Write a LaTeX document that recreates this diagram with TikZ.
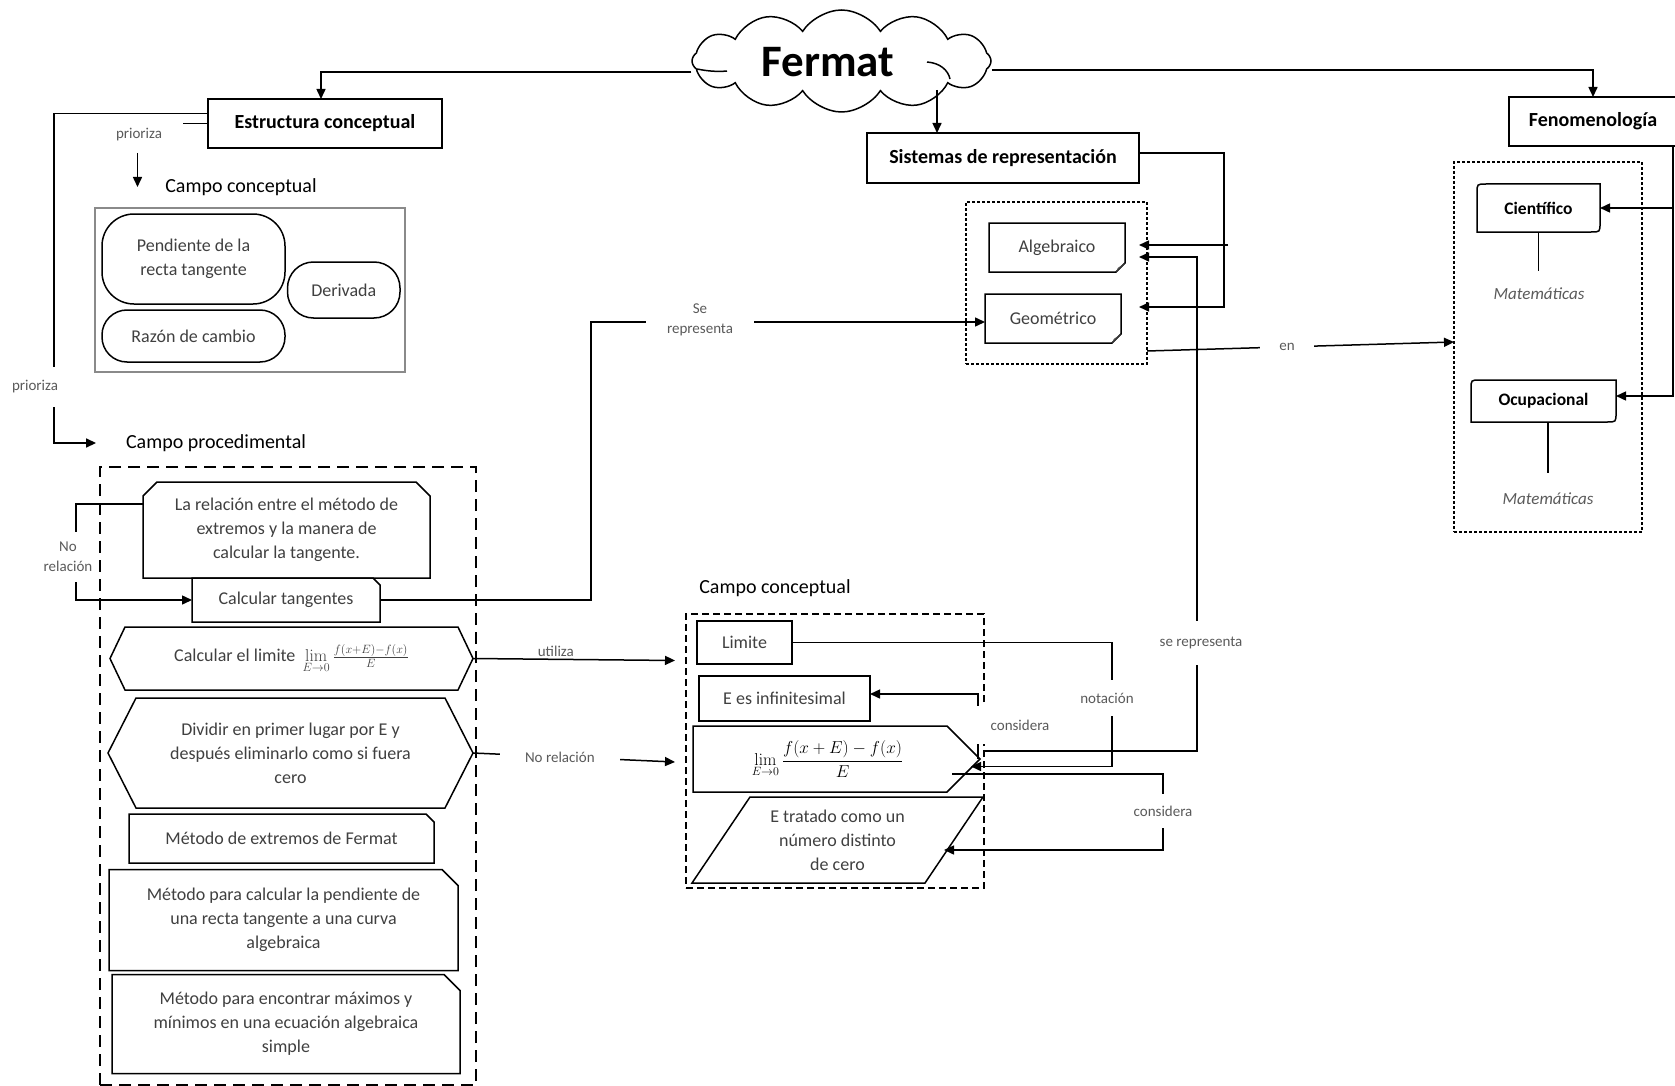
\documentclass[tikz,border=0pt]{standalone}
\usepackage[no-math]{fontspec}
\setmainfont{Carlito}
\usetikzlibrary{arrows.meta,calc,shapes.symbols}

\definecolor{boxtext}{HTML}{404040}
\definecolor{labtext}{HTML}{5A5A5A}
\definecolor{framegray}{HTML}{8A8A8A}

\tikzset{
  conn/.style={line width=1.5pt, draw=black},
  arr/.style={conn, -{Triangle[length=10pt,width=9pt]}},
  frame/.style={line width=1.5pt, draw=black},
  plain/.style={inner sep=0pt, outer sep=0pt, align=center},
  cbox/.style={plain, font=\fontsize{18}{24}\selectfont, text=boxtext},
  head/.style={plain, font=\fontsize{20}{24}\selectfont\bfseries, text=black},
  title/.style={plain, font=\fontsize{20}{24}\selectfont, text=black},
  lab/.style={inner sep=0pt, outer sep=0pt, align=center,
              font=\fontsize{15}{20}\selectfont, text=labtext},
  gaplab/.style={lab, fill=white},
  finedash/.style={line width=1.3pt, dash pattern=on 3pt off 2pt},
  middash/.style={line width=1.4pt, dash pattern=on 7pt off 4pt},
  longdash/.style={line width=1.4pt, dash pattern=on 12pt off 7pt},
}

% outlines drawn around plain nodes
\newcommand\shapeNE[2]{\draw[frame] (#1.north west) -- ($(#1.north east)+(-#2,0)$)
  -- ($(#1.north east)+(0,#2)$) -- (#1.south east) -- (#1.south west) -- cycle;}
\newcommand\shapeTop[2]{\draw[frame] (#1.south west) -- ($(#1.north west)+(0,#2)$)
  -- ($(#1.north west)+(#2,0)$) -- ($(#1.north east)+(-#2,0)$)
  -- ($(#1.north east)+(0,#2)$) -- (#1.south east) -- cycle;}
\newcommand\shapeHex[2]{\draw[frame] (#1.west) -- ($(#1.north west)+(#2,0)$)
  -- ($(#1.north east)+(-#2,0)$) -- (#1.east) -- ($(#1.south east)+(-#2,0)$)
  -- ($(#1.south west)+(#2,0)$) -- cycle;}
\newcommand\shapePent[2]{\draw[frame] (#1.north west) -- ($(#1.north east)+(-#2,0)$)
  -- (#1.east) -- ($(#1.south east)+(-#2,0)$) -- (#1.south west) -- cycle;}
\newcommand\shapePara[2]{\draw[frame] ($(#1.north west)+(#2,0)$) -- (#1.north east)
  -- ($(#1.south east)+(-#2,0)$) -- (#1.south west) -- cycle;}
\newcommand\shapeFold[2]{\draw[frame] (#1.north west) -- (#1.north east)
  -- ($(#1.south east)+(0,-#2)$) -- ($(#1.south east)+(-#2,0)$) -- (#1.south west) -- cycle;
  \fill[black!70] ($(#1.south east)+(0,-#2)$) -- ($(#1.south east)+(-#2,0)$)
  -- ($(#1.south east)+(-0.8*#2,-0.45*#2)$) -- cycle;}
\newcommand\shapeTLBR[2]{\draw[frame] ($(#1.north west)+(0,#2)$) .. controls (#1.north west) .. ($(#1.north west)+(#2,0)$)
  -- (#1.north east) -- ($(#1.south east)+(0,-#2)$) .. controls (#1.south east) .. ($(#1.south east)+(-#2,0)$)
  -- (#1.south west) -- cycle;}

\begin{document}
\begin{tikzpicture}[x=1pt,y=-1pt]
\fill[white] (0,0) rectangle (1675,1086);
\useasboundingbox (0,0) rectangle (1675,1086);

% ---------- Fermat ----------
\node[cloud, draw, line width=1.5pt, cloud puffs=12, cloud puff arc=115,
      cloud ignores aspect, minimum width=299pt, minimum height=102pt,
      inner sep=0pt] (fcloud) at (841.5,61) {};
\draw[conn] (927,62) .. controls (940,63) and (948,70) .. (950,79);
\draw[conn] (697,69) .. controls (707,71) and (717,72) .. (727,71);
\node[plain, font=\fontsize{45}{50}\selectfont\bfseries] (fermat) at (828,62) {Fermat};

% ---------- Estructura conceptual ----------
\node[head, frame, minimum width=234pt, minimum height=49pt] (estr) at (325,123.5) {Estructura conceptual};
\node[title] (cc1title) at (241,187) {Campo conceptual};
\node[plain, draw=framegray, line width=1.2pt, minimum width=310pt, minimum height=164pt] (cc1box) at (250,290) {};
\node[cbox, frame, rounded corners=32pt, minimum width=183pt, minimum height=90pt] (pend) at (193.5,259) {Pendiente de la\\recta tangente};
\node[cbox, frame, rounded corners=26pt, minimum width=112.5pt, minimum height=56pt] (deriv) at (343.75,290) {Derivada};
\node[cbox, frame, rounded corners=25pt, minimum width=183pt, minimum height=52pt] (razon) at (193.5,336) {Razón de cambio};

% ---------- Campo procedimental ----------
\node[title] (cproc) at (216,443) {Campo procedimental};
\node[plain, draw, longdash, minimum width=376pt, minimum height=618pt] (procbox) at (288,776) {};
\node[cbox, minimum width=287pt, minimum height=96pt] (rel) at (286.5,530) {La relación entre el método de\\extremos y la manera de\\calcular la tangente.};
\shapeTop{rel}{14}
\node[cbox, minimum width=188pt, minimum height=44pt] (ctan) at (286,600) {Calcular tangentes};
\shapeNE{ctan}{7}
\node[cbox, minimum width=363pt, minimum height=63pt] (clim) at (291.5,658.5) {Calcular el limite\, $\lim\limits_{E\to0}\frac{f(x+E)-f(x)}{E}$};
\shapeHex{clim}{15}
\node[cbox, minimum width=365pt, minimum height=110pt] (div) at (290.5,753) {Dividir en primer lugar por E y\\después eliminarlo como si fuera\\cero};
\shapeHex{div}{28}
\node[cbox, minimum width=305pt, minimum height=49pt] (mext) at (281.5,838.5) {Método de extremos de Fermat};
\shapeNE{mext}{8}
\node[cbox, minimum width=349pt, minimum height=101pt] (mcalc) at (283.5,920) {Método para calcular la pendiente de\\una recta tangente a una curva\\algebraica};
\shapeNE{mcalc}{16}
\node[cbox, minimum width=348pt, minimum height=99pt] (menc) at (286,1024) {Método para encontrar máximos y\\mínimos en una ecuación algebraica\\simple};
\shapeNE{menc}{16}

% ---------- Sistemas de representación ----------
\node[head, frame, minimum width=272pt, minimum height=50pt] (sist) at (1003,158) {Sistemas de representación};
\node[plain, draw, finedash, minimum width=181pt, minimum height=162pt] (repbox) at (1056.5,283) {};
\node[cbox, minimum width=136pt, minimum height=49pt] (alg) at (1057,247.5) {Algebraico};
\shapeFold{alg}{9}
\node[cbox, minimum width=136pt, minimum height=49pt] (geo) at (1053,318.5) {Geométrico};
\shapeFold{geo}{9}

% ---------- Campo conceptual (derecha) ----------
\node[title] (cc2title) at (775,588) {Campo conceptual};
\node[plain, draw, middash, minimum width=298pt, minimum height=274pt] (cc2box) at (835,751) {};
\node[cbox, frame, minimum width=95pt, minimum height=43pt] (limite) at (744.5,642.5) {Limite};
\node[cbox, frame, minimum width=171pt, minimum height=45pt] (einf) at (784.5,698.5) {E es infinitesimal};
\node[plain, text=black, font=\fontsize{18.5}{22}\selectfont, minimum width=287pt, minimum height=66pt] (limf) at (836.5,759)
  {$\displaystyle\lim_{E\to0}\frac{f(x+E)-f(x)}{E}$\hspace{18pt}};
\shapePent{limf}{33}
\node[cbox, minimum width=291pt, minimum height=86pt] (etr) at (837.5,840) {E tratado como un\\número distinto\\de cero};
\shapePara{etr}{58}

% ---------- Fenomenología ----------
\node[head, frame, minimum width=168pt, minimum height=49pt] (fen) at (1593,121.5) {Fenomenología};
\node[plain, draw, finedash, minimum width=188pt, minimum height=370pt] (fenbox) at (1548,347) {};
\node[plain, font=\fontsize{17.5}{20}\selectfont\bfseries, minimum width=123pt, minimum height=48pt] (cien) at (1538.5,208) {Científico};
\shapeTLBR{cien}{9}
\node[plain, font=\fontsize{17.5}{20}\selectfont\bfseries, minimum width=145pt, minimum height=42pt] (ocup) at (1543.5,401) {Ocupacional};
\shapeTLBR{ocup}{9}
\node[plain, font=\fontsize{17}{20}\selectfont\itshape, text=labtext] (mat1) at (1539,294) {Matemáticas};
\node[plain, font=\fontsize{17}{20}\selectfont\itshape, text=labtext] (mat2) at (1548,499) {Matemáticas};

% ---------- connectors ----------
\coordinate (fdrop) at (937,90);
\coordinate (prioA) at (137.5,153);
\coordinate (prioB) at (137.5,187);
\coordinate (sbranch) at (1228,245);

\draw[arr] ([yshift=-11pt]fcloud.west) -| ([xshift=-4pt]estr.north);
\draw[arr] (fdrop) -- (fdrop |- sist.north);
\draw[arr] ([yshift=-9pt]fcloud.east) -| (fen.north);

\draw[arr] ([yshift=10pt]estr.west) -- ++(-154,0) |- ([xshift=-30pt]cproc.west);
\draw[conn] (estr.west) -- ++(-25,0);
\draw[arr] (prioA) -- (prioB);

\draw[arr] (ctan.east) -- ++(211,0) |- ([yshift=-3.5pt]geo.west);
\draw[arr] ([yshift=26pt]rel.west) -- ++(-67,0) |- (ctan.west);
\draw[arr] (clim.east) -- ++(202,2) node[lab, pos=.41, above=3pt] (lutil) {utiliza};
\draw[arr] (div.east) -- ++(202,9) node[gaplab, pos=.43, inner xsep=25pt, inner ysep=5pt] (lnorel2) {No relación};

\draw[arr] (limite.east) -- ++(320,0) -- ++(0,124) -- ($(limf.east)+(-9,7.5)$);
\draw[arr] ([xshift=-2pt]limf.east) |- ([yshift=4.5pt]einf.east);
\draw[arr] ($(limf.east)+(-28,15)$) -- ++(211,0) -- ++(0,76) -- ([shift={(-39pt,-10pt)}]etr.east);
\draw[arr] ($(limf.east)+(3,-8)$) -- ++(214,0) |- ($(alg.east)+(14,9.5)$);

\draw[arr] ([yshift=5pt]sist.east) -- ++(85,0) |- ($(geo.east)+(18,-11.5)$);
\draw[arr] (sbranch) -- ($(alg.east)+(14,-2.5)$);
\draw[arr] ([yshift=13pt]repbox.south east) -- ([yshift=5pt]fenbox.west)
  node[gaplab, pos=.456, inner xsep=19pt, inner ysep=3pt] (len) {en};

\draw[arr] ([xshift=-4pt]fen.south east) |- (cien.east);
\draw[arr] ([xshift=-4pt]fen.south east) |- ([yshift=5pt]ocup.east);
\draw[conn] (cien.south) -- ++(0,39);
\draw[conn] ([xshift=4.5pt]ocup.south) -- ++(0,51);

% ---------- labels ----------
\node[lab] (lprio1) at (139,135) {prioriza};
\node[gaplab, inner xsep=2pt, inner ysep=14pt] (lprio2) at (35,387) {prioriza};
\node[gaplab, inner xsep=21pt, inner ysep=2pt] (lserep) at (700,320) {Se\\representa};
\node[gaplab, inner xsep=2pt, inner ysep=10pt] (lnorel) at (68,557) {No\\relación};
\node[gaplab, inner xsep=2pt, inner ysep=13pt] (lnot) at (1107,698) {notación};
\node[gaplab, inner xsep=15pt, inner ysep=14pt] (lcons1) at (1020,725) {considera};
\node[gaplab, inner xsep=2pt, inner ysep=12pt] (lcons2) at (1163,811) {considera};
\node[gaplab, inner xsep=2pt, inner ysep=16pt] (lserep2) at (1201,643) {se representa};
\end{tikzpicture}
\end{document}
